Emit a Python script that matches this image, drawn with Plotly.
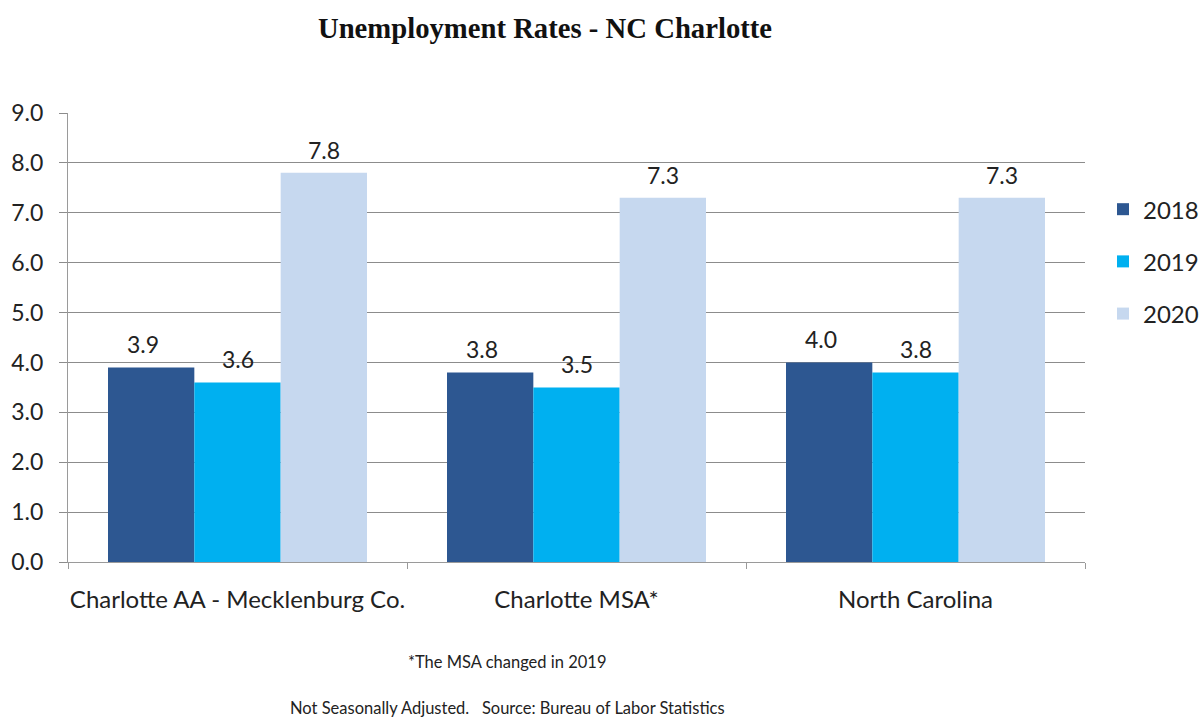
import plotly.graph_objects as go

categories = ["Charlotte AA - Mecklenburg Co.", "Charlotte MSA*", "North Carolina"]
years = ["2018", "2019", "2020"]
rates_2018 = [3.9, 3.8, 4.0]
rates_2019 = [3.6, 3.5, 3.8]
rates_2020 = [7.8, 7.3, 7.3]
colors = ["#2D5791", "#00B0F0", "#C6D8EF"]

series = [rates_2018, rates_2019, rates_2020]
label_font = "Lato, 'Open Sans', sans-serif"

fig = go.Figure()
for year, vals, col in zip(years, series, colors):
    fig.add_trace(go.Bar(
        name=year, x=categories, y=vals, marker=dict(color=col, line=dict(width=0)),
        legendgroup=year, hoverinfo="skip",
    ))

# value labels above each bar
bargap = 0.236
bar_w = (1 - bargap) / len(years)
annotations = []
for j, vals in enumerate(series):
    off = (j - 1) * bar_w
    for i, v in enumerate(vals):
        annotations.append(dict(
            x=i + off, y=v, xref="x", yref="y", text=f"{v:.1f}",
            showarrow=False, yshift=23, xshift=-8 if j == 0 else 0,
            font=dict(family=label_font, size=23, color="#222"),
        ))

annotations += [
    dict(text="*The MSA changed in 2019", x=507, y=662, xref="paper", yref="paper",
         xanchor="center", yanchor="middle", showarrow=False,
         font=dict(family=label_font, size=16.5, color="#222")),
    dict(text="Not Seasonally Adjusted.   Source: Bureau of Labor Statistics",
         x=507, y=708, xref="paper", yref="paper",
         xanchor="center", yanchor="middle", showarrow=False,
         font=dict(family=label_font, size=16.5, color="#222")),
]

# convert footnote pixel positions to paper coords
L, R, T, B = 68, 114, 113, 157
W, H = 1199, 719
pw, ph = W - L - R, H - T - B
for a in annotations[-2:]:
    a["x"] = (a["x"] - L) / pw
    a["y"] = (H - B - a["y"]) / ph

fig.update_layout(
    width=W, height=H,
    margin=dict(l=L, r=R, t=T, b=B, autoexpand=False),
    paper_bgcolor="white", plot_bgcolor="white",
    barmode="group", bargap=bargap, bargroupgap=0,
    title=dict(text="<b>Unemployment Rates - NC Charlotte</b>", x=545 / W, xanchor="center",
               y=1 - 28 / H, yanchor="middle",
               font=dict(family="'Liberation Serif', 'Times New Roman', serif", size=28.7, color="#111")),
    legend=dict(x=1.0177, y=0.835, xanchor="left", yanchor="top", tracegroupgap=18,
                font=dict(family=label_font, size=24, color="#222"),
                bgcolor="rgba(0,0,0,0)"),
    annotations=annotations,
    showlegend=True,
)

fig.update_yaxes(
    range=[0, 9], dtick=1, tickformat=".1f",
    showgrid=True, gridcolor="#8C8C8C", gridwidth=1,
    showline=True, linecolor="#9A9A9A", linewidth=1,
    ticks="outside", ticklen=8, tickcolor="#8C8C8C",
    ticklabelstandoff=11, zeroline=False,
    tickfont=dict(family=label_font, size=23, color="#222"),
)
fig.update_xaxes(
    showline=True, linecolor="#9A9A9A", linewidth=1,
    ticks="outside", tickson="boundaries", ticklen=6, tickcolor="#9A9A9A",
    ticklabelstandoff=16, tickangle=0,
    tickfont=dict(family=label_font, size=24, color="#222"),
)

fig.write_html("out.html")
